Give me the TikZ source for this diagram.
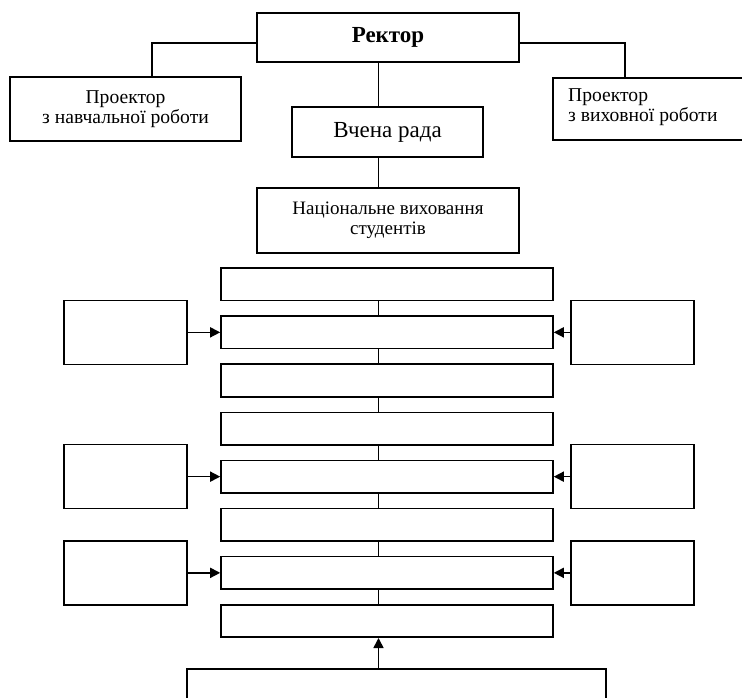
\documentclass[tikz,border=0pt]{standalone}
\usepackage{fontspec}
\setmainfont{Liberation Serif}
\usetikzlibrary{arrows.meta}
\begin{document}
\begin{tikzpicture}[x=1pt,y=-1pt,
  box/.style={draw, line width=1.6pt, rectangle, inner sep=0pt},
  conn/.style={line width=1.6pt},
  arr/.style={line width=1.6pt, -{Triangle[length=10pt,width=10pt]}}]
\useasboundingbox (0,0) rectangle (742,698);
\coordinate (spine) at (378.5,0);
% top part
\node[box, minimum width=262pt, minimum height=49pt,
      font=\bfseries\fontsize{23}{26}\selectfont] (rector) at (388,37.5) {Ректор};
\node[box, minimum width=231pt, minimum height=64pt, align=center,
      font=\fontsize{19.6}{20}\selectfont] (prl) at (125.5,109) {Проектор\\з навчальної роботи};
\node[box, minimum width=207pt, minimum height=62pt] (prr) at (656.5,109) {};
\node[anchor=west, inner sep=0pt, align=left,
      font=\fontsize{19.6}{20}\selectfont] (prrtext) at (568,107) {Проектор\\з виховної роботи};
\node[box, minimum width=191pt, minimum height=50pt,
      font=\fontsize{23}{26}\selectfont] (vr) at (387.5,132) {Вчена рада};
\node[box, minimum width=262pt, minimum height=65pt, align=center,
      font=\fontsize{19}{20}\selectfont] (nat) at (388,220.5) {Національне виховання\\студентів};
\draw[conn] ([yshift=-5.5pt]rector.west) -| ([xshift=26.5pt]prl.north);
\draw[conn] ([yshift=-5.5pt]rector.east) -| ([xshift=-31.5pt]prr.north);
\draw[conn] (rector.south -| spine) -- (vr.north -| spine);
\draw[conn] (vr.south -| spine) -- (nat.north -| spine);
% middle column
\foreach \i in {1,...,8}
  \node[box, minimum width=332pt, minimum height=32.5pt] (m\i) at (387,{284.25+48.1*(\i-1)}) {};
\foreach \i/\j in {1/2,2/3,3/4,4/5,5/6,6/7,7/8}
  \draw[conn] (m\i.south -| spine) -- (m\j.north -| spine);
% side boxes
\foreach \k/\t in {1/2,2/5,3/7}{
  \node[box, minimum width=123pt, minimum height=64pt] (sl\k) at (125.5,{284.25+48.1*(\t-1)}) {};
  \node[box, minimum width=123pt, minimum height=64pt] (sr\k) at (632.5,{284.25+48.1*(\t-1)}) {};
  \draw[arr] (sl\k.east) -- (m\t.west);
  \draw[arr] (sr\k.west) -- (m\t.east);
}
% bottom box
\node[box, minimum width=419pt, minimum height=51pt] (bot) at (396.5,694.5) {};
\draw[arr] (bot.north -| spine) -- (m8.south -| spine);
\end{tikzpicture}
\end{document}
